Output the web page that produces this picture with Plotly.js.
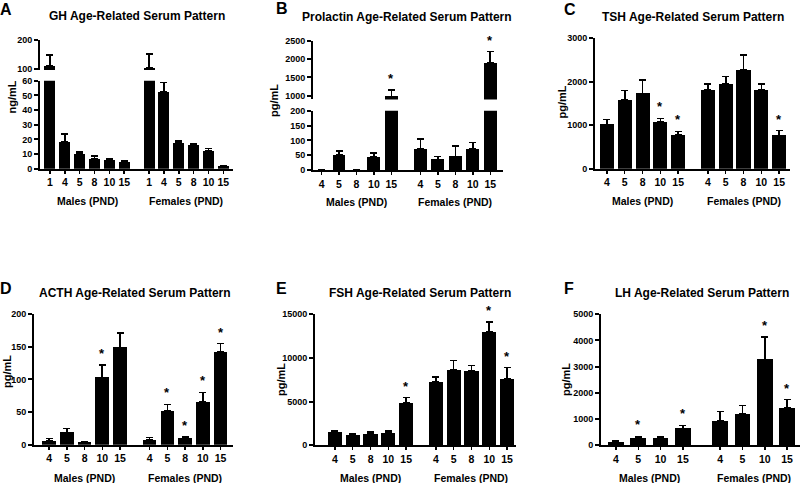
<!DOCTYPE html>
<html><head><meta charset="utf-8">
<script src="https://cdn.plot.ly/plotly-3.0.1.min.js"></script>
<style>html,body{margin:0;padding:0;background:#fff}#chart{width:800px;height:483px}</style>
</head><body><div id="chart"></div>
<script>
// ---------------- DATA ----------------
// A: GH (ng/mL)
const ghMalePND = ['1','4','5','8','10','15'];
const ghMaleMean = [111, 18.5, 10.1, 6.8, 6.0, 4.6];
const ghMaleSem = [38, 5.1, 1.1, 1.9, 0.8, 0.7];
const ghMaleSig = [false,false,false,false,false,false];
const ghFemalePND = ['1','4','5','8','10','15'];
const ghFemaleMean = [104, 52.1, 17.4, 16.2, 11.9, 1.8];
const ghFemaleSem = [49, 6.6, 1.6, 0.7, 1.8, 0.5];
const ghFemaleSig = [false,false,false,false,false,false];

// B: Prolactin (pg/mL)
const prlMalePND = ['4','5','8','10','15'];
const prlMaleMean = [0, 50.7, 0, 44, 980];
const prlMaleSem = [0, 14.3, 0, 14, 180];
const prlMaleSig = [false,false,false,false,true];
const prlFemalePND = ['4','5','8','10','15'];
const prlFemaleMean = [72, 36, 46, 70.6, 1885];
const prlFemaleSem = [32, 9, 35, 22.4, 317];
const prlFemaleSig = [false,false,false,false,true];

// C: TSH (pg/mL)
const tshMalePND = ['4','5','8','10','15'];
const tshMaleMean = [1021, 1589, 1734, 1074, 775];
const tshMaleSem = [107, 207, 300, 85, 85];
const tshMaleSig = [false,false,false,true,true];
const tshFemalePND = ['4','5','8','10','15'];
const tshFemaleMean = [1819, 1942, 2272, 1804, 767];
const tshFemaleSem = [123, 176, 345, 138, 108];
const tshFemaleSig = [false,false,false,false,true];

// D: ACTH (pg/mL)
const acthMalePND = ['4','5','8','10','15'];
const acthMaleMean = [5.6, 18.9, 3.6, 103, 149];
const acthMaleSem = [3.6, 6.1, 1.0, 19, 22];
const acthMaleSig = [false,false,false,true,false];
const acthFemalePND = ['4','5','8','10','15'];
const acthFemaleMean = [7.7, 51.5, 9.7, 65.8, 141.8];
const acthFemaleSem = [3.5, 10.2, 2.5, 14.2, 12.8];
const acthFemaleSig = [false,true,true,true,true];

// E: FSH (pg/mL)
const fshMalePND = ['4','5','8','10','15'];
const fshMaleMean = [1565, 1221, 1336, 1450, 4885];
const fshMaleSem = [114, 115, 153, 191, 573];
const fshMaleSig = [false,false,false,false,true];
const fshFemalePND = ['4','5','8','10','15'];
const fshFemaleMean = [7252, 8588, 8473, 13015, 7634];
const fshFemaleSem = [572, 1107, 649, 1069, 1259];
const fshFemaleSig = [false,false,false,true,true];

// F: LH (pg/mL)
const lhMalePND = ['4','5','10','15'];
const lhMaleMean = [115, 281, 281, 638];
const lhMaleSem = [51, 51, 51, 115];
const lhMaleSig = [false,true,false,true];
const lhFemalePND = ['4','5','10','15'];
const lhFemaleMean = [931, 1199, 3278, 1416];
const lhFemaleSem = [345, 319, 842, 319];
const lhFemaleSig = [false,false,true,true];

const groupLabels = ['Males (PND)', 'Females (PND)'];

// ---------------- LAYOUT CONFIG ----------------
const W = 800, H = 483, GAP = 1.67;
const FONT = 'Liberation Sans, Arial, sans-serif';
const px = v => v / W;
const py = v => 1 - v / H;

const panels = [
  {letter:'A', title:'GH Age-Related Serum Pattern', unit:'ng/mL',
   m:[ghMalePND, ghMaleMean, ghMaleSem, ghMaleSig], f:[ghFemalePND, ghFemaleMean, ghFemaleSem, ghFemaleSig],
   xPx:[40,233], xRange:[-0.67,12.32], barW:0.74,
   lower:{px:[168.7,80.7], range:[0,60], tickvals:[0,10,20,30,40,50,60]},
   upper:{px:[69.9,40], range:[98,200], tickvals:[100,200]},
   titleXY:[137,16], letterXY:[5.5,9.5], ylabXY:[11.5,97], groupY:201},
  {letter:'B', title:'Prolactin Age-Related Serum Pattern', unit:'pg/mL',
   m:[prlMalePND, prlMaleMean, prlMaleSem, prlMaleSig], f:[prlFemalePND, prlFemaleMean, prlFemaleSem, prlFemaleSig],
   xPx:[313,503], xRange:[-0.49,10.4], barW:0.74,
   lower:{px:[170,110.7], range:[0,200], tickvals:[0,50,100,150,200]},
   upper:{px:[99.4,40.7], range:[900,2500], tickvals:[1000,1500,2000,2500]},
   titleXY:[407,17], letterXY:[281.7,8.3], ylabXY:[274,101], groupY:202},
  {letter:'C', title:'TSH Age-Related Serum Pattern', unit:'pg/mL',
   m:[tshMalePND, tshMaleMean, tshMaleSem, tshMaleSig], f:[tshFemalePND, tshFemaleMean, tshFemaleSem, tshFemaleSig],
   xPx:[595,790], xRange:[-0.67,10.28], barW:0.79,
   lower:{px:[168.7,38.3], range:[0,3000], tickvals:[0,1000,2000,3000]},
   titleXY:[693,17], letterXY:[570,10], ylabXY:[561.5,102], groupY:201},
  {letter:'D', title:'ACTH Age-Related Serum Pattern', unit:'pg/mL',
   m:[acthMalePND, acthMaleMean, acthMaleSem, acthMaleSig], f:[acthFemalePND, acthFemaleMean, acthFemaleSem, acthFemaleSig],
   xPx:[34,233], xRange:[-0.85,10.37], barW:0.77,
   lower:{px:[444.7,314], range:[0,200], tickvals:[0,50,100,150,200]},
   titleXY:[135,293], letterXY:[5.5,288], ylabXY:[7,372], groupY:477.7},
  {letter:'E', title:'FSH Age-Related Serum Pattern', unit:'pg/mL',
   m:[fshMalePND, fshMaleMean, fshMaleSem, fshMaleSig], f:[fshFemalePND, fshFemaleMean, fshFemaleSem, fshFemaleSig],
   xPx:[315,516], xRange:[-1.12,10.17], barW:0.8,
   lower:{px:[445.3,314.3], range:[0,15000], tickvals:[0,5000,10000,15000]},
   titleXY:[420,293], letterXY:[281,288], ylabXY:[281,380], groupY:477.7},
  {letter:'F', title:'LH Age-Related Serum Pattern', unit:'pg/mL',
   m:[lhMalePND, lhMaleMean, lhMaleSem, lhMaleSig], f:[lhFemalePND, lhFemaleMean, lhFemaleSem, lhFemaleSig],
   xPx:[601,800], xRange:[-0.67,8.25], barW:0.7,
   lower:{px:[445,314.3], range:[0,5000], tickvals:[0,1000,2000,3000,4000,5000]},
   titleXY:[701.7,293], letterXY:[569,288], ylabXY:[566,380], groupY:477.7}
];

// ---------------- BUILD ----------------
const traces = [];
const layout = {
  width: W, height: H, margin:{l:0,r:0,t:0,b:0},
  paper_bgcolor:'#fff', plot_bgcolor:'rgba(0,0,0,0)',
  showlegend:false, bargap:0, annotations:[],
  font:{family:FONT, color:'#000'}
};
const axName = (k, i) => k + 'axis' + (i === 1 ? '' : i);
const axRef = (k, i) => k + (i === 1 ? '' : i);
let xi = 0, yi = 0;

const yAxisBase = {
  showline:true, linewidth:2, linecolor:'#000', ticks:'outside', ticklen:4, tickwidth:2, tickcolor:'#000',
  showgrid:false, zeroline:false, fixedrange:true,
  tickfont:{family:FONT, size:9, color:'#000', weight:'bold'}
};

panels.forEach(p => {
  xi += 1;
  const xr = axRef('x', xi);
  const nM = p.m[0].length;
  const xM = p.m[0].map((_, i) => i);
  const xF = p.f[0].map((_, j) => (nM - 1) + GAP + j);
  const xs = xM.concat(xF);
  const means = p.m[1].concat(p.f[1]);
  const sems = p.m[2].concat(p.f[2]);
  const sigs = p.m[3].concat(p.f[3]);
  const labels = p.m[0].concat(p.f[0]);

  const segs = [p.lower].concat(p.upper ? [p.upper] : []);
  const yRefs = [];
  segs.forEach((s, si) => {
    yi += 1;
    const yr = axRef('y', yi);
    yRefs.push(yr);
    layout[axName('y', yi)] = Object.assign({}, yAxisBase, {
      domain:[py(s.px[0]), py(s.px[1])], range:s.range, anchor:xr,
      tickmode:'array', tickvals:s.tickvals, ticktext:s.tickvals.map(String)
    });
    traces.push({
      type:'bar', x:xs, y:means, width:p.barW, xaxis:xr, yaxis:yr,
      marker:{color:'#000', line:{width:0}},
      error_y:{type:'data', symmetric:false, array:sems, arrayminus:sems.map(() => 0),
               color:'#000', thickness:1.6, width:3.5},
      hoverinfo:'skip'
    });
  });

  layout[axName('x', xi)] = {
    domain:[px(p.xPx[0]), px(p.xPx[1])], range:p.xRange, anchor:yRefs[0],
    showline:true, linewidth:2, linecolor:'#000', ticks:'outside', ticklen:3, tickwidth:1.5, tickcolor:'#000',
    showgrid:false, zeroline:false, fixedrange:true,
    tickmode:'array', tickvals:xs, ticktext:labels,
    tickfont:{family:FONT, size:10.5, color:'#000', weight:'bold'}
  };

  const ann = layout.annotations;
  // significance stars
  xs.forEach((x, i) => {
    if (!sigs[i]) return;
    const top = means[i] + sems[i];
    const yr = (p.upper && top > p.lower.range[1]) ? yRefs[1] : yRefs[0];
    ann.push({xref:xr, yref:yr, x:x, y:top, text:'<b>*</b>', showarrow:false,
      yanchor:'bottom', yshift:2, font:{family:FONT, size:13, color:'#000'}});
  });
  // title
  ann.push({xref:'paper', yref:'paper', x:px(p.titleXY[0]), y:py(p.titleXY[1]), text:'<b>'+p.title+'</b>',
    showarrow:false, xanchor:'center', yanchor:'middle', font:{family:FONT, size:12, color:'#000'}});
  // panel letter
  ann.push({xref:'paper', yref:'paper', x:px(p.letterXY[0]), y:py(p.letterXY[1]), text:'<b>'+p.letter+'</b>',
    showarrow:false, xanchor:'center', yanchor:'middle', font:{family:FONT, size:16, color:'#000'}});
  // y label
  ann.push({xref:'paper', yref:'paper', x:px(p.ylabXY[0]), y:py(p.ylabXY[1]), text:'<b>'+p.unit+'</b>',
    showarrow:false, xanchor:'center', yanchor:'middle', textangle:-90, font:{family:FONT, size:11, color:'#000'}});
  // group labels
  [xM, xF].forEach((g, gi) => {
    const mid = (g[0] + g[g.length - 1]) / 2;
    ann.push({xref:xr, yref:'paper', x:mid, y:py(p.groupY), text:'<b>'+groupLabels[gi]+'</b>',
      showarrow:false, xanchor:'center', yanchor:'middle', font:{family:FONT, size:10.5, color:'#000'}});
  });
});

Plotly.newPlot('chart', traces, layout, {staticPlot:true, displayModeBar:false});
</script>
</body></html>
